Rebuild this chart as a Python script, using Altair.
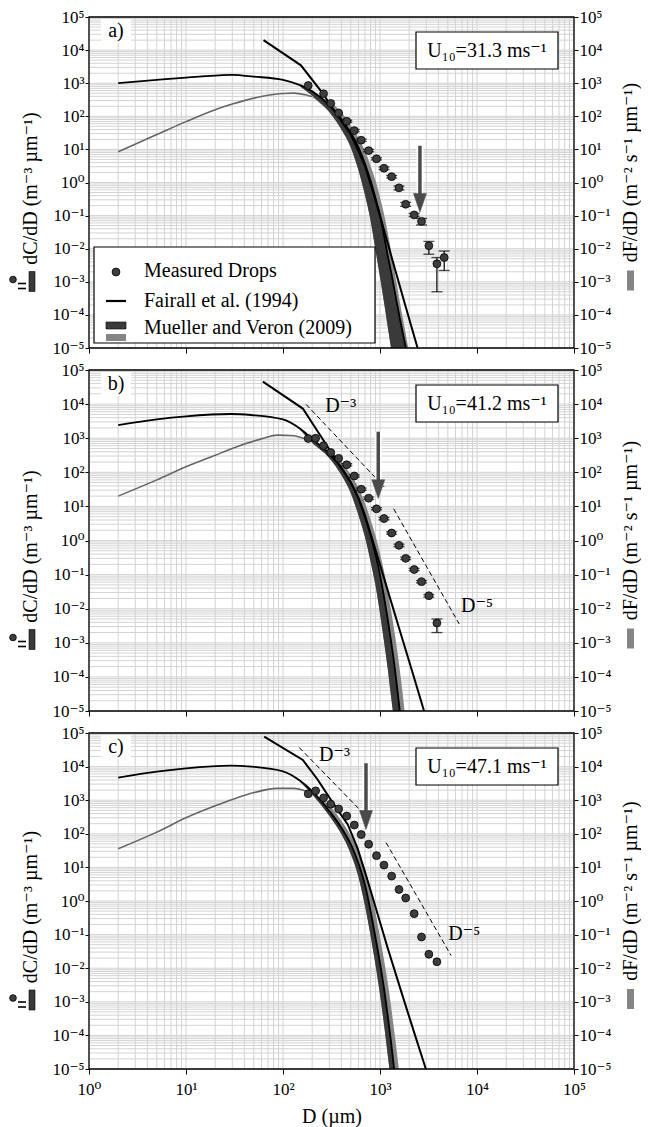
import math
import altair as alt
import pandas as pd

FONT = "Liberation Serif, DejaVu Serif"
W = 485
HEIGHTS = [331, 341, 336]
SPACING = 22

GRID_COLOR = "#d3d3d3"
DARK = "#3a3a3a"
GRAY = "#858585"
THIN_GRAY = "#666666"
MARKER = "#3d3d3d"
ARROW = "#4a4a4a"

X_DECADES = [1, 10, 100, 1000, 10000, 100000]
X_TICK_LABELS = ["10⁰", "10¹", "10²", "10³", "10⁴", "10⁵"]
Y_DECADES = [1e-5, 1e-4, 1e-3, 1e-2, 1e-1, 1, 10, 100, 1000, 1e4, 1e5]
Y_TICK_LABELS = ["10⁻⁵", "10⁻⁴", "10⁻³", "10⁻²", "10⁻¹", "10⁰", "10¹", "10²", "10³", "10⁴", "10⁵"]
MINOR_STEPS = [1, 2, 3, 4, 5, 6, 7, 8, 9]
GRID_X = [m * d for d in X_DECADES[:-1] for m in MINOR_STEPS] + [X_DECADES[-1]]
GRID_Y = [m * d for d in Y_DECADES[:-1] for m in MINOR_STEPS] + [Y_DECADES[-1]]

LEFT_TITLE = "dC/dD (m⁻³ µm⁻¹)"
RIGHT_TITLE = "dF/dD (m⁻² s⁻¹ µm⁻¹)"
X_TITLE = "D (µm)"
LEGEND_LABELS = ["Measured Drops", "Fairall et al. (1994)", "Mueller and Veron (2009)"]

# ---------------- panel a ----------------
A = dict(
    tag="a)", u10="U₁₀=31.3 ms⁻¹",
    smooth_D=[2, 5, 10, 20, 30, 50, 100, 150, 200, 300, 400, 500, 600, 700, 800, 900, 1000, 1100, 1200, 1300, 1400, 1600, 1850, 2100],
    smooth_v=[1000, 1260, 1480, 1700, 1780, 1580, 1260, 870, 575, 219, 83, 31, 11.5, 3.7, 1.12, 0.33, 0.1, 0.025, 6.3e-3, 2e-3, 6.3e-4, 7.9e-5, 1e-5, 1.6e-6],
    dark_D=[150, 200, 300, 400, 500, 600, 700, 800, 900, 1000, 1100, 1200, 1300, 1400, 1600, 1850],
    dark_lo=[794, 417, 135, 39.8, 11.5, 2.34, 0.417, 0.07, 9e-3, 1.4e-3, 2.4e-4, 4.5e-5, 1e-5, 2e-6, 1e-7, 1e-8],
    dark_hi=[870, 575, 219, 83, 31, 11.5, 3.7, 1.12, 0.33, 0.1, 0.025, 6.3e-3, 2e-3, 6.3e-4, 7.9e-5, 1e-5],
    gray_D=[200, 250, 300, 400, 500, 600, 700, 800, 900, 1000, 1100, 1200, 1300, 1400, 1600, 1850, 2100],
    gray_lo=[380, 224, 135, 39.8, 11.5, 2.34, 0.417, 0.07, 9e-3, 1.4e-3, 2.4e-4, 4.5e-5, 1e-5, 2e-6, 1e-7, 1e-8, 1e-9],
    gray_hi=[398, 355, 282, 132, 52.5, 22.4, 8.9, 3.16, 1.12, 0.355, 0.112, 0.0316, 8.9e-3, 2.5e-3, 2.5e-4, 2.5e-5, 3.2e-6],
    thin_D=[2, 5, 10, 20, 30, 60, 100, 130, 180, 200],
    thin_v=[8.5, 28, 69, 158, 234, 398, 490, 500, 427, 398],
    steep_D=[63, 153, 256, 350, 500, 600, 700, 850, 1000, 1300, 1800, 2440, 2700],
    steep_v=[2.0e4, 3.47e3, 500, 126, 28.2, 8.9, 3.16, 0.5, 0.1, 6.3e-3, 2.2e-4, 1e-5, 3.5e-6],
    meas_D=[182, 262, 311, 375, 454, 543, 640, 764, 920, 1100, 1318, 1570, 1840, 2250, 2680, 3190, 3860, 4590],
    meas_v=[850, 480, 245, 126, 71, 37, 19, 9.2, 5.2, 2.7, 1.5, 0.69, 0.22, 0.105, 0.067, 0.0123, 0.0035, 0.0054],
    meas_lo=[850, 480, 245, 126, 66, 34, 17.5, 8.5, 4.8, 2.45, 1.37, 0.6, 0.19, 0.094, 0.052, 0.0068, 0.0005, 0.0022],
    meas_hi=[850, 480, 245, 126, 76, 40, 20.5, 10, 5.6, 2.95, 1.63, 0.78, 0.25, 0.116, 0.082, 0.0166, 0.0054, 0.0085],
    arrow_D=2580, arrow_top=12.9, arrow_base=0.4, arrow_tip=0.126,
    dash=[], dash_labels=[],
)

# ---------------- panel b ----------------
B = dict(
    tag="b)", u10="U₁₀=41.2 ms⁻¹",
    smooth_D=[2, 5, 10, 29, 47, 100, 150, 200, 300, 400, 500, 600, 700, 800, 900, 1000, 1100, 1200, 1300, 1400, 1500, 1600, 1700],
    smooth_v=[2400, 3550, 4370, 5130, 4790, 3550, 1900, 955, 347, 135, 51, 16.6, 4.8, 1.41, 0.38, 0.1, 0.0224, 5e-3, 1.12e-3, 2.5e-4, 5e-5, 1e-5, 2e-6],
    dark_D=[150, 200, 300, 400, 500, 600, 700, 800, 900, 1000, 1100, 1200, 1300, 1400, 1500, 1600],
    dark_lo=[1780, 741, 263, 83, 24.5, 5.5, 1.26, 0.24, 0.047, 7.2e-3, 1.1e-3, 1.8e-4, 2.7e-5, 5e-6, 1e-6, 2e-7],
    dark_hi=[1900, 955, 347, 135, 51, 16.6, 4.8, 1.41, 0.38, 0.1, 0.0224, 5e-3, 1.12e-3, 2.5e-4, 5e-5, 1e-5],
    gray_D=[200, 300, 400, 500, 600, 700, 800, 900, 1000, 1100, 1200, 1300, 1400, 1500, 1600, 1700, 1800, 1900],
    gray_lo=[700, 263, 83, 24.5, 5.5, 1.26, 0.24, 0.047, 7.2e-3, 1.1e-3, 1.8e-4, 2.7e-5, 5e-6, 1e-6, 2e-7, 4e-8, 1e-8, 2e-9],
    gray_hi=[851, 457, 209, 85, 35.5, 12.6, 4.07, 1.35, 0.417, 0.126, 0.0355, 8.9e-3, 2.4e-3, 6.3e-4, 1.6e-4, 4e-5, 8.9e-6, 2e-6],
    thin_D=[2, 5, 10, 20, 30, 60, 88, 130, 180, 200],
    thin_v=[20, 60, 145, 316, 500, 955, 1230, 1175, 912, 851],
    steep_D=[62, 160, 228, 338, 500, 600, 690, 810, 1100, 1600, 2200, 2860, 3100],
    steep_v=[4.57e4, 7.4e3, 1.58e3, 282, 50, 17.8, 6.3, 1.41, 0.079, 2.3e-3, 1.15e-4, 9.5e-6, 4.5e-6],
    meas_D=[182, 217, 262, 311, 375, 454, 543, 640, 764, 920, 1100, 1318, 1570, 1840, 2250, 2680, 3190, 3860],
    meas_v=[980, 1000, 600, 380, 257, 166, 78, 32, 17.4, 8.5, 4.4, 1.66, 0.72, 0.30, 0.141, 0.062, 0.024, 0.0038],
    meas_lo=[980, 1000, 600, 380, 257, 155, 72, 29.5, 16, 7.9, 4.05, 1.53, 0.66, 0.275, 0.13, 0.057, 0.022, 0.002],
    meas_hi=[980, 1000, 600, 380, 257, 178, 84, 34.5, 18.8, 9.2, 4.75, 1.8, 0.78, 0.325, 0.153, 0.067, 0.026, 0.005],
    arrow_D=960, arrow_top=1550, arrow_base=55, arrow_tip=17,
    dash=[([173, 1107], [9800, 37]), ([1384, 6560], [8.5, 0.00355])],
    dash_labels=[("D⁻³", 272, 8700), ("D⁻⁵", 6840, 0.0123)],
)

# ---------------- panel c ----------------
C = dict(
    tag="c)", u10="U₁₀=47.1 ms⁻¹",
    smooth_D=[2, 5, 10, 29, 47, 100, 150, 200, 300, 400, 500, 600, 700, 800, 900, 1000, 1100, 1200, 1300, 1400, 1500],
    smooth_v=[4680, 7080, 8910, 10700, 10000, 7240, 3800, 1860, 479, 151, 49, 13.2, 3.0, 0.5, 0.079, 0.0141, 2.5e-3, 4e-4, 6.3e-5, 1e-5, 1.6e-6],
    dark_D=[150, 200, 300, 400, 500, 600, 700, 800, 900, 1000, 1100, 1200, 1300, 1400],
    dark_lo=[3550, 1480, 347, 98, 25, 5.2, 0.72, 0.091, 0.0123, 1.66e-3, 2.1e-4, 2.7e-5, 4e-6, 6.3e-7],
    dark_hi=[3800, 1860, 479, 151, 49, 13.2, 3.0, 0.5, 0.079, 0.0141, 2.5e-3, 4e-4, 6.3e-5, 1e-5],
    gray_D=[200, 300, 400, 500, 600, 700, 800, 900, 1000, 1100, 1200, 1300, 1400, 1500, 1600, 1700],
    gray_lo=[1480, 347, 98, 25, 5.2, 0.72, 0.091, 0.0123, 1.66e-3, 2.1e-4, 2.7e-5, 4e-6, 6.3e-7, 1e-7, 1.6e-8, 2.5e-9],
    gray_hi=[1585, 708, 245, 89, 30, 8.9, 2.14, 0.437, 0.083, 0.0178, 3.8e-3, 7.4e-4, 1.4e-4, 2.8e-5, 5.6e-6, 1e-6],
    thin_D=[2, 5, 10, 20, 30, 47, 88, 130, 180, 200],
    thin_v=[36, 112, 300, 680, 1050, 1600, 2250, 2250, 1780, 1585],
    steep_D=[64, 160, 228, 336, 465, 590, 720, 775, 1200, 1700, 2300, 2970, 3200],
    steep_v=[7.8e4, 1.58e4, 4.07e3, 741, 191, 35.5, 5.6, 2.8, 0.04, 1.58e-3, 1e-4, 1e-5, 5e-6],
    meas_D=[182, 217, 262, 311, 375, 454, 543, 640, 764, 920, 1100, 1318, 1570, 1840, 2250, 2680, 3190, 3860],
    meas_v=[1550, 1900, 1175, 760, 550, 339, 182, 95, 49, 22.4, 11.7, 5.5, 2.2, 1.23, 0.42, 0.085, 0.026, 0.0155],
    meas_lo=[1550, 1900, 1175, 760, 550, 339, 182, 95, 49, 22.4, 11.7, 5.5, 2.2, 1.23, 0.42, 0.085, 0.026, 0.0155],
    meas_hi=[1550, 1900, 1175, 760, 550, 339, 182, 95, 49, 22.4, 11.7, 5.5, 2.2, 1.23, 0.42, 0.085, 0.026, 0.0155],
    arrow_D=717, arrow_top=12600, arrow_base=450, arrow_tip=135,
    dash=[([147, 746], [37000, 300]), ([1153, 5400], [55, 0.024])],
    dash_labels=[("D⁻³", 235, 22000), ("D⁻⁵", 5040, 0.105)],
)


def label_expr(values, labels):
    expr = "''"
    for v, lab in zip(values, labels):
        e = round(math.log10(v))
        expr = f"round(log(datum.value)/LN10) == {e} ? '{lab}' : ({expr})"
    return expr


Y_EXPR = label_expr(Y_DECADES, Y_TICK_LABELS)
X_EXPR = label_expr(X_DECADES, X_TICK_LABELS)


def one(**kw):
    return pd.DataFrame({k: [v] for k, v in kw.items()})


def px_text(s, x, y, size=20, align="center", angle=0):
    kw = dict(font=FONT, fontSize=size, align=align, baseline="middle", color="black")
    if angle:
        kw["angle"] = angle
    return alt.Chart(one(t=s)).mark_text(**kw).encode(
        text="t:N", x=alt.value(x), y=alt.value(y))


def px_rect(x1, x2, y1, y2, fill, stroke=None, sw=1.0, fill_opacity=1.0):
    kw = dict(fill=fill, fillOpacity=fill_opacity)
    if stroke:
        kw.update(stroke=stroke, strokeWidth=sw)
    return alt.Chart(one(k=0)).mark_rect(**kw).encode(
        x=alt.value(x1), x2=alt.value(x2), y=alt.value(y1), y2=alt.value(y2))


def px_rule(x1, x2, y1, y2, color="black", sw=1.0):
    return alt.Chart(one(k=0)).mark_rule(color=color, strokeWidth=sw).encode(
        x=alt.value(x1), x2=alt.value(x2), y=alt.value(y1), y2=alt.value(y2))


def px_point(x, y, size, fill, stroke="black", sw=0.8):
    return alt.Chart(one(k=0)).mark_point(
        shape="circle", filled=True, fill=fill, stroke=stroke, strokeWidth=sw,
        size=size, opacity=1).encode(x=alt.value(x), y=alt.value(y))


def make_panel(p, H, show_x, legend):
    xs = alt.Scale(type="log", domain=[1, 1e5], nice=False)
    ys = alt.Scale(type="log", domain=[1e-5, 1e5], nice=False)

    def X(f):
        # no explicit axis here: the grid layer carries the (explicit) x axis
        return alt.X(f"{f}:Q", scale=xs)

    def Y(f):
        return alt.Y(f"{f}:Q", scale=ys, axis=None)

    ax_common = dict(values=Y_DECADES, labelExpr=Y_EXPR, tickSize=4, tickColor="black",
                     tickWidth=1, labelFont=FONT, labelFontSize=17, labelColor="black",
                     labelPadding=1, domain=False, grid=False, title=None, labelOverlap=False)
    left_axis = alt.Axis(orient="left", **ax_common)
    right_axis = alt.Axis(orient="right", **ax_common)
    if show_x:
        x_axis = alt.Axis(orient="bottom", values=X_DECADES, labelExpr=X_EXPR, labels=True,
                          ticks=True, tickSize=5,
                          tickColor="black", tickWidth=1, labelFont=FONT, labelFontSize=17,
                          labelColor="black", labelPadding=7, labelFlush=False,
                          labelOverlap=False, domain=False, grid=False, title=X_TITLE,
                          titleFont=FONT, titleFontSize=20, titleFontWeight="normal",
                          titleColor="black", titlePadding=9)
    else:
        x_axis = alt.Axis(orient="bottom", values=X_DECADES, labels=False, ticks=True,
                          tickSize=5, tickColor="black", tickWidth=1, domain=False,
                          grid=False, title=None)

    L = []
    L.append(alt.Chart(pd.DataFrame({"gx": GRID_X})).mark_rule(color=GRID_COLOR, strokeWidth=1)
             .encode(x=alt.X("gx:Q", scale=xs, axis=x_axis)))
    L.append(alt.Chart(pd.DataFrame({"gy": GRID_Y})).mark_rule(color=GRID_COLOR, strokeWidth=1)
             .encode(y=alt.Y("gy:Q", scale=ys, axis=left_axis)))

    # thin gray flux line
    L.append(alt.Chart(pd.DataFrame({"D": p["thin_D"], "v": p["thin_v"]}))
             .mark_line(color=THIN_GRAY, strokeWidth=1.6, interpolate="monotone", clip=True)
             .encode(x=X("D"), y=Y("v")))
    # gray band (right axis)
    L.append(alt.Chart(pd.DataFrame({"D": p["gray_D"], "lo": p["gray_lo"], "hi": p["gray_hi"]}))
             .mark_area(color=GRAY, opacity=1, interpolate="monotone", clip=True)
             .encode(x=X("D"), y=alt.Y("lo:Q", scale=ys, axis=right_axis), y2="hi:Q"))
    # dark band
    L.append(alt.Chart(pd.DataFrame({"D": p["dark_D"], "lo": p["dark_lo"], "hi": p["dark_hi"]}))
             .mark_area(color=DARK, opacity=1, interpolate="monotone", clip=True)
             .encode(x=X("D"), y=Y("lo"), y2="hi:Q"))
    # smooth black line
    L.append(alt.Chart(pd.DataFrame({"D": p["smooth_D"], "v": p["smooth_v"]}))
             .mark_line(color="black", strokeWidth=1.8, interpolate="monotone", clip=True)
             .encode(x=X("D"), y=Y("v")))
    # steep black line
    L.append(alt.Chart(pd.DataFrame({"D": p["steep_D"], "v": p["steep_v"]}))
             .mark_line(color="black", strokeWidth=2, clip=True)
             .encode(x=X("D"), y=Y("v")))
    # dashed power laws
    if p["dash"]:
        rows = []
        for i, (ds, vs) in enumerate(p["dash"]):
            for d, v in zip(ds, vs):
                rows.append({"seg": i, "D": d, "v": v})
        L.append(alt.Chart(pd.DataFrame(rows))
                 .mark_line(color="black", strokeWidth=1, strokeDash=[5, 3], clip=True)
                 .encode(x=X("D"), y=Y("v"), detail="seg:N"))
        lab = pd.DataFrame({"t": [d[0] for d in p["dash_labels"]],
                            "D": [d[1] for d in p["dash_labels"]],
                            "v": [d[2] for d in p["dash_labels"]]})
        L.append(alt.Chart(lab).mark_text(font=FONT, fontSize=20, align="left",
                                          baseline="middle", color="black")
                 .encode(x=X("D"), y=Y("v"), text="t:N"))
    # measured drops with error bars
    m = pd.DataFrame({"D": p["meas_D"], "v": p["meas_v"], "lo": p["meas_lo"], "hi": p["meas_hi"]})
    me = m[m["hi"] > m["lo"]]
    if len(me):
        L.append(alt.Chart(me).mark_rule(color="black", strokeWidth=1.2, clip=True)
                 .encode(x=X("D"), y=Y("lo"), y2="hi:Q"))
        L.append(alt.Chart(me).mark_tick(orient="horizontal", size=11, thickness=1.3,
                                         color="black", clip=True)
                 .encode(x=X("D"), y=Y("lo")))
        L.append(alt.Chart(me).mark_tick(orient="horizontal", size=11, thickness=1.3,
                                         color="black", clip=True)
                 .encode(x=X("D"), y=Y("hi")))
    L.append(alt.Chart(m).mark_point(shape="circle", filled=True, fill=MARKER, stroke="black",
                                     strokeWidth=0.8, size=62, opacity=1, clip=True)
             .encode(x=X("D"), y=Y("v")))
    # arrow
    ar = one(D=p["arrow_D"], top=p["arrow_top"], base=p["arrow_base"], tip=p["arrow_tip"])
    L.append(alt.Chart(ar).mark_rule(color="white", strokeWidth=7, opacity=0.85)
             .encode(x=X("D"), y=Y("top"), y2="base:Q"))
    L.append(alt.Chart(ar).mark_rule(color=ARROW, strokeWidth=3.5)
             .encode(x=X("D"), y=Y("top"), y2="base:Q"))
    L.append(alt.Chart(ar).mark_point(shape="M -1 -2.9 L 1 -2.9 L 0 0 Z", filled=True,
                                      fill=ARROW, stroke=ARROW, strokeWidth=0.5,
                                      size=169, opacity=1)
             .encode(x=X("D"), y=Y("tip")))

    # U10 box
    L.append(px_rect(327, 469, 15, 52, "white", stroke="black", sw=1.2))
    L.append(px_text(p["u10"], 398, 34, size=20))
    # panel tag
    L.append(px_rect(12, 42, 2, 26, "white"))
    L.append(px_text(p["tag"], 27, 14, size=20))

    if legend:
        L.append(px_rect(5, 286, H - 101, H - 5, "white", stroke="black", sw=1.2))
        L.append(px_point(27, H - 76, 62, MARKER))
        L.append(px_rule(17, 37, H - 47, H - 47, sw=2.2))
        L.append(px_rect(17, 37, H - 26, H - 19, DARK, stroke="black", sw=0.6))
        L.append(px_rect(17, 37, H - 14, H - 7, GRAY))
        L.append(px_text(LEGEND_LABELS[0], 55, H - 77, size=20, align="left"))
        L.append(px_text(LEGEND_LABELS[1], 55, H - 47, size=20, align="left"))
        L.append(px_text(LEGEND_LABELS[2], 55, H - 20, size=20, align="left"))

    # frame
    L.append(px_rect(0, W, 0, H, "white", stroke="black", sw=1.3, fill_opacity=0))

    # axis titles with legend symbols
    L.append(px_text(LEFT_TITLE, -58, H / 2 + 6, size=20, angle=270))
    L.append(px_point(-76, H / 2 + 97, 45, MARKER))
    L.append(px_rule(-71, -63, H / 2 + 101, H / 2 + 101, sw=1.6))
    L.append(px_rule(-71, -63, H / 2 + 106, H / 2 + 106, sw=1.6))
    L.append(px_rect(-60, -54, H / 2 + 89, H / 2 + 109, DARK, stroke="black", sw=0.6))
    L.append(px_text(RIGHT_TITLE, W + 57, H / 2 - 10, size=20, angle=270))
    L.append(px_rect(W + 53, W + 60, H / 2 + 88, H / 2 + 108, GRAY))

    return alt.layer(*L).resolve_scale(y="independent").properties(width=W, height=H)


chart = alt.vconcat(
    make_panel(A, HEIGHTS[0], False, True),
    make_panel(B, HEIGHTS[1], False, False),
    make_panel(C, HEIGHTS[2], True, False),
    spacing=SPACING, bounds="flush",
).configure_view(strokeWidth=0).properties(
    padding={"left": 0, "right": 0, "top": 0, "bottom": 2})

chart.save("out.html", embed_options={"renderer": "svg", "actions": False})
